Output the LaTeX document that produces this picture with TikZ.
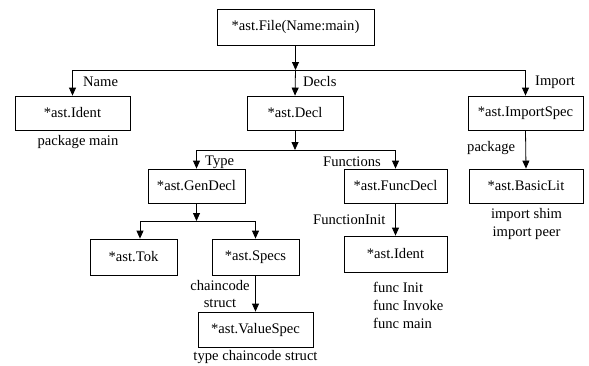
\documentclass[tikz,border=0pt]{standalone}
\usepackage{fontspec}
\setmainfont{Liberation Serif}
\usetikzlibrary{arrows.meta}
\begin{document}
\begin{tikzpicture}[x=1pt,y=-1pt,
  font=\fontsize{14.6}{17.5}\selectfont,
  box/.style={draw,line width=0.8pt,inner sep=0pt,minimum height=35pt},
  arr/.style={line width=0.8pt,-{Triangle[length=8pt,width=7pt]}},
  ln/.style={line width=0.8pt},
  lbl/.style={inner sep=0pt}]
\useasboundingbox (0,0) rectangle (589,365);
% boxes
\node[box,minimum width=157pt,minimum height=36pt] (file) at (295.5,27) {*ast.File(Name:main)};
\node[box,minimum width=115pt,minimum height=34pt] (ident) at (72.5,113) {*ast.Ident};
\node[box,minimum width=96pt,minimum height=34pt] (decl) at (295,113) {*ast.Decl};
\node[box,minimum width=115pt,minimum height=34pt] (imps) at (525.5,113) {*ast.ImportSpec};
\node[box,minimum width=97pt,minimum height=34pt] (gen) at (196.5,186) {*ast.GenDecl};
\node[box,minimum width=103pt,minimum height=34pt] (func) at (395.5,186) {*ast.FuncDecl};
\node[box,minimum width=114pt,minimum height=34pt] (lit) at (526,186) {*ast.BasicLit};
\node[box,minimum width=87pt,minimum height=36pt] (tok) at (133.5,257) {*ast.Tok};
\node[box,minimum width=87pt,minimum height=36pt] (specs) at (255.5,257) {*ast.Specs};
\node[box,minimum width=115pt,minimum height=35pt] (vspec) at (255.5,329.5) {*ast.ValueSpec};
\node[box,minimum width=103pt,minimum height=36pt] (ident2) at (395.5,254) {*ast.Ident};
% junctions
\coordinate (j1) at (295.5,70);
\coordinate (j1l) at (72.5,70);
\coordinate (j1r) at (525.5,70);
\coordinate (j2) at (295,150);
\coordinate (j2l) at (196.5,150);
\coordinate (j2r) at (395.5,150);
\coordinate (j3) at (196.5,221);
\coordinate (j3l) at (140,221);
\coordinate (j3r) at (255.5,221);
% connectors
\draw[arr] (file.south) -- (j1);
\draw[ln] (j1l) -- (j1r);
\draw[arr] (j1) -- (decl.north);
\draw[arr] (j1l) -- (ident.north);
\draw[arr] (j1r) -- (imps.north);
\draw[arr] (decl.south) -- (j2);
\draw[ln] (j2l) -- (j2r);
\draw[arr] (j2l) -- (gen.north);
\draw[arr] (j2r) -- (func.north);
\draw[arr] (imps.south) -- (lit.north);
\draw[arr] (gen.south) -- (j3);
\draw[ln] (j3l) -- (j3r);
\draw[arr] (j3l) -- (j3l |- tok.north);
\draw[arr] (j3r) -- (specs.north);
\draw[arr] (specs.south) -- (vspec.north);
\draw[arr] (func.south) -- (ident2.north);
% labels
\node[lbl,anchor=west] (lname) at (83,82) {Name};
\node[lbl,anchor=west] (ldecls) at (303,82) {Decls};
\node[lbl,anchor=west] (limport) at (535,82) {Import};
\node[lbl,anchor=west] (ltype) at (205,162) {Type};
\node[lbl,anchor=west] (lfuncs) at (323,162) {Functions};
\node[lbl,anchor=west] (lpkg) at (467,148) {package};
\node[lbl,anchor=west] (lfinit) at (313,220) {FunctionInit};
\node[lbl] (tpkg) at (78,142) {package main};
\node[lbl] (tshim) at (526.5,215) {import shim};
\node[lbl] (tpeer) at (526.5,233) {import peer};
\node[lbl] (tcc) at (220,285) {chaincode};
\node[lbl] (tst) at (220,303) {struct};
\node[lbl] (ttype) at (255.5,357) {type chaincode struct};
\node[lbl,anchor=west] (tf1) at (373,287) {func Init};
\node[lbl,anchor=west] (tf2) at (373,305) {func Invoke};
\node[lbl,anchor=west] (tf3) at (373,323) {func main};
\end{tikzpicture}
\end{document}
